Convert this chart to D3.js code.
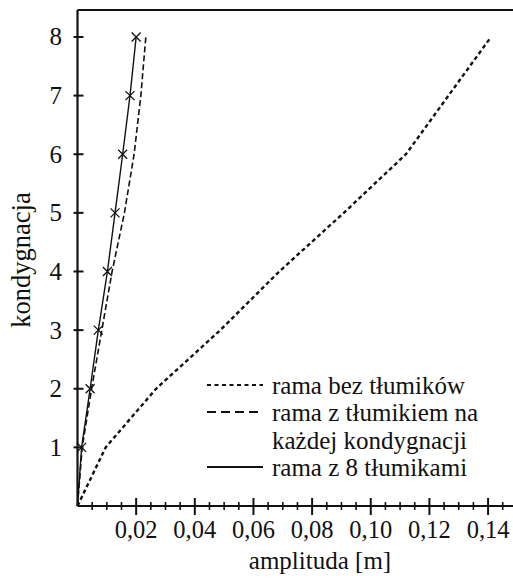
<!DOCTYPE html>
<html><head><meta charset="utf-8"><script src="https://cdn.jsdelivr.net/npm/d3@7"></script></head>
<body style="margin:0">
<svg id="chart" width="513" height="579"></svg>
<script>
// Storeys (kondygnacja) and peak amplitudes [m] for each frame variant
const floors = [0, 1, 2, 3, 4, 5, 6, 7, 8];
const noDampers = [0, 0.0096, 0.0268, 0.0487, 0.0688, 0.0908, 0.1120, 0.1265, 0.1410];
const damperEachFloor = [0, 0.0016, 0.0048, 0.0083, 0.0118, 0.0160, 0.0193, 0.0216, 0.0233];
const eightDampers = [0, 0.0014, 0.0043, 0.0071, 0.0102, 0.0128, 0.0154, 0.0179, 0.0200];

const xTicks = [0.02, 0.04, 0.06, 0.08, 0.10, 0.12, 0.14];
const yTicks = [1, 2, 3, 4, 5, 6, 7, 8];
const legendLabels = ["rama bez tłumików", "rama z tłumikiem na", "każdej kondygnacji", "rama z 8 tłumikami"];

const FONT = '"Liberation Serif"';
const svg = d3.select("#chart");
const W = 513;
const x = d3.scaleLinear().domain([0, 0.1485]).range([77.5, 513]);
const y = d3.scaleLinear().domain([0, 8.46]).range([506, 10]);

const ink = "#111";

// frame: top edge
svg.append("line")
  .attr("x1", x(0)).attr("x2", W)
  .attr("y1", y(8.46)).attr("y2", y(8.46))
  .attr("stroke", ink).attr("stroke-width", 2.2);

// y axis
svg.append("line")
  .attr("x1", x(0)).attr("x2", x(0))
  .attr("y1", y(8.46)).attr("y2", y(0))
  .attr("stroke", ink).attr("stroke-width", 2.2);
svg.selectAll("line.ytick").data(yTicks).join("line")
  .attr("class", "ytick")
  .attr("x1", x(0) - 4).attr("x2", x(0) + 6)
  .attr("y1", d => y(d)).attr("y2", d => y(d))
  .attr("stroke", ink).attr("stroke-width", 2);
svg.selectAll("text.ylab").data(yTicks).join("text")
  .attr("class", "ylab")
  .attr("x", 62).attr("y", d => y(d) + 8.5)
  .attr("text-anchor", "end")
  .style("font-family", FONT)
  .attr("font-size", 25)
  .attr("fill", ink)
  .text(d => d);

// x axis
svg.append("line")
  .attr("x1", x(0)).attr("x2", W)
  .attr("y1", y(0)).attr("y2", y(0))
  .attr("stroke", ink).attr("stroke-width", 2.2);
const minor = d3.range(0.005, 0.1485, 0.005).filter(v => Math.abs(v / 0.02 - Math.round(v / 0.02)) > 1e-6);
svg.selectAll("line.xminor").data(minor).join("line")
  .attr("class", "xminor")
  .attr("x1", d => x(d)).attr("x2", d => x(d))
  .attr("y1", y(0) - 4).attr("y2", y(0) + 4)
  .attr("stroke", ink).attr("stroke-width", 1.6);
svg.selectAll("line.xmajor").data(xTicks).join("line")
  .attr("class", "xmajor")
  .attr("x1", d => x(d)).attr("x2", d => x(d))
  .attr("y1", y(0) - 8).attr("y2", y(0) + 9)
  .attr("stroke", ink).attr("stroke-width", 2);
svg.selectAll("text.xlab").data(xTicks).join("text")
  .attr("class", "xlab")
  .attr("x", d => x(d)).attr("y", 538)
  .attr("text-anchor", "middle")
  .style("font-family", FONT)
  .attr("font-size", 24.5)
  .attr("fill", ink)
  .text(d => d3.format(".2f")(d).replace(".", ","));

// axis titles
svg.append("text")
  .attr("x", 320).attr("y", 569)
  .attr("text-anchor", "middle")
  .style("font-family", FONT)
  .attr("font-size", 25)
  .attr("fill", ink)
  .text("amplituda [m]");
svg.append("text")
  .attr("transform", "translate(30,260) rotate(-90)")
  .attr("text-anchor", "middle")
  .style("font-family", FONT)
  .attr("font-size", 26.5)
  .attr("fill", ink)
  .text("kondygnacja");

// series
const line = d3.line().x(d => x(d[0])).y(d => y(d[1]));
const pts = arr => arr.map((v, i) => [v, floors[i]]);

svg.append("path").datum(pts(noDampers))
  .attr("d", line).attr("fill", "none")
  .attr("stroke", ink).attr("stroke-width", 2.4)
  .attr("stroke-dasharray", "4,3");
svg.append("path").datum(pts(damperEachFloor))
  .attr("d", line).attr("fill", "none")
  .attr("stroke", ink).attr("stroke-width", 1.6)
  .attr("stroke-dasharray", "6,3");
svg.append("path").datum(pts(eightDampers))
  .attr("d", line).attr("fill", "none")
  .attr("stroke", ink).attr("stroke-width", 1.4);

// × markers on the 8-damper curve
const s = 4.5;
svg.selectAll("path.mark").data(pts(eightDampers).slice(1)).join("path")
  .attr("class", "mark")
  .attr("d", d => {
    const cx = x(d[0]), cy = y(d[1]);
    return `M${cx - s},${cy - s}L${cx + s},${cy + s}M${cx - s},${cy + s}L${cx + s},${cy - s}`;
  })
  .attr("stroke", ink).attr("stroke-width", 1.3).attr("fill", "none");

// legend
const rows = [
  { label: legendLabels[0], y: 385, dash: "4,3.5", w: 2 },
  { label: legendLabels[1], y: 412, dash: "9,5", w: 2.2 },
  { label: legendLabels[2], y: 440, dash: null, w: 0 },
  { label: legendLabels[3], y: 467, dash: "none", w: 2 }
];
rows.forEach(r => {
  if (r.dash !== null) {
    svg.append("line")
      .attr("x1", 207).attr("x2", 263)
      .attr("y1", r.y).attr("y2", r.y)
      .attr("stroke", ink).attr("stroke-width", r.w)
      .attr("stroke-dasharray", r.dash);
  }
  svg.append("text")
    .attr("x", 272).attr("y", r.y + 8.5)
    .style("font-family", FONT)
    .attr("font-size", 25)
    .attr("fill", ink)
    .text(r.label);
});
</script></body></html>
